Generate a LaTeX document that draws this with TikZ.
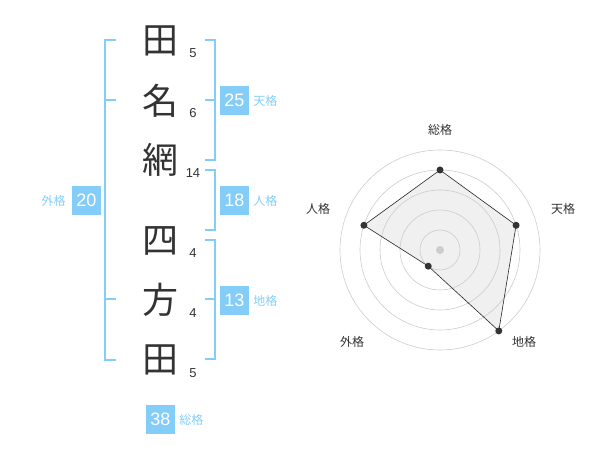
\documentclass[tikz,border=0pt]{standalone}
\usepackage{fontspec}
\setmainfont{Liberation Sans}
\newfontfamily\jpfont{Noto Sans CJK JP}
\usepackage{tikz}
\usetikzlibrary{positioning,calc}
\definecolor{kakublue}{HTML}{84CDF8}
\definecolor{inkgray}{HTML}{333333}
\definecolor{gridgray}{HTML}{CCCCCC}
\definecolor{areagray}{HTML}{F0F0F0}
\tikzset{
  kanji/.style={font=\jpfont\fontsize{36}{36}\selectfont, text=inkgray, inner sep=0pt},
  strokenum/.style={font=\fontsize{13}{13}\selectfont, text=inkgray, inner sep=0pt},
  scorebox/.style={fill=kakublue, text=white, minimum width=29pt, minimum height=29pt,
    inner sep=0pt, font=\fontsize{18}{18}\selectfont},
  scorelabel/.style={text=kakublue, inner sep=0pt, font=\jpfont\fontsize{12}{12}\selectfont},
  bracketline/.style={draw=kakublue, line width=2pt},
  radargrid/.style={draw=gridgray, line width=0.6pt},
  radarlabel/.style={text=inkgray, inner sep=0pt, font=\jpfont\fontsize{12}{12}\selectfont},
  radardot/.style={circle, fill=inkgray, inner sep=0pt, minimum size=7pt},
}

\begin{document}
\begin{tikzpicture}[x=1pt, y=-1pt]
  \useasboundingbox (0,0) rectangle (600,470);

  % Name characters - family name
  \node[kanji] (k1) at (160,41) {田};
  \node[kanji] (k2) at (160,101) {名};
  \node[kanji] (k3) at (160,160) {網};
  % Name characters - given name
  \node[kanji] (k4) at (160,241) {四};
  \node[kanji] (k5) at (160,300) {方};
  \node[kanji] (k6) at (160,360) {田};

  % Stroke counts
  \node[strokenum] (n1) at (193,53) {5};
  \node[strokenum] (n2) at (193,113) {6};
  \node[strokenum] (n3) at (193,173) {14};
  \node[strokenum] (n4) at (193,253) {4};
  \node[strokenum] (n5) at (193,313) {4};
  \node[strokenum] (n6) at (193,373) {5};

  % Brackets
  \draw[bracketline] (116,40) -- (105,40) -- (105,360) -- (116,360);
  \draw[bracketline] (105,100) -- (116,100);
  \draw[bracketline] (105,299) -- (116,299);
  \draw[bracketline] (205,40) -- (215,40) -- (215,160) -- (205,160);
  \draw[bracketline] (205,100) -- (215,100);
  \draw[bracketline] (205,170) -- (215,170) -- (215,230) -- (205,230);
  \draw[bracketline] (205,240) -- (215,240) -- (215,359) -- (205,359);
  \draw[bracketline] (205,299) -- (215,299);

  % Score boxes
  \node[scorebox] (ten) at (234.5,100.5) {25};
  \node[scorelabel, right=4pt of ten] (tenL) {天格};
  \node[scorebox] (jin) at (234.5,200.5) {18};
  \node[scorelabel, right=4pt of jin] (jinL) {人格};
  \node[scorebox] (chi) at (234.5,300.5) {13};
  \node[scorelabel, right=4pt of chi] (chiL) {地格};
  \node[scorebox] (gai) at (86.5,200.5) {20};
  \node[scorelabel, left=6pt of gai] (gaiL) {外格};
  \node[scorebox] (sou) at (160.5,419.5) {38};
  \node[scorelabel, right=4pt of sou] (souL) {総格};

  % Radar chart
  \coordinate (ctr) at (440,250);
  \coordinate (pSou) at ($(ctr)+(-90:80)$);
  \coordinate (pTen) at ($(ctr)+(-18:80)$);
  \coordinate (pChi) at ($(ctr)+(54:100)$);
  \coordinate (pGai) at ($(ctr)+(126:20)$);
  \coordinate (pJin) at ($(ctr)+(198:80)$);
  \fill[areagray] (pSou) -- (pTen) -- (pChi) -- (pGai) -- (pJin) -- cycle;

  \draw[radargrid] (ctr) circle (20);
  \draw[radargrid] (ctr) circle (40);
  \draw[radargrid] (ctr) circle (60);
  \draw[radargrid] (ctr) circle (80);
  \draw[radargrid] (ctr) circle (100);
  \fill[gridgray] (ctr) circle (4);

  \draw[black!85, line width=0.6pt]
    (pSou) -- (pTen) -- (pChi) -- (pGai) -- (pJin) -- cycle;
  \node[radardot] at (pSou) {};
  \node[radardot] at (pTen) {};
  \node[radardot] at (pChi) {};
  \node[radardot] at (pGai) {};
  \node[radardot] at (pJin) {};

  \node[radarlabel] (rSou) at ($(ctr)+(0,-120)$) {総格};
  \node[radarlabel] (rTen) at ($(ctr)+(123,-41)$) {天格};
  \node[radarlabel] (rChi) at ($(ctr)+(84,92)$) {地格};
  \node[radarlabel] (rGai) at ($(ctr)+(-88,92)$) {外格};
  \node[radarlabel] (rJin) at ($(ctr)+(-122,-41)$) {人格};
\end{tikzpicture}
\end{document}
